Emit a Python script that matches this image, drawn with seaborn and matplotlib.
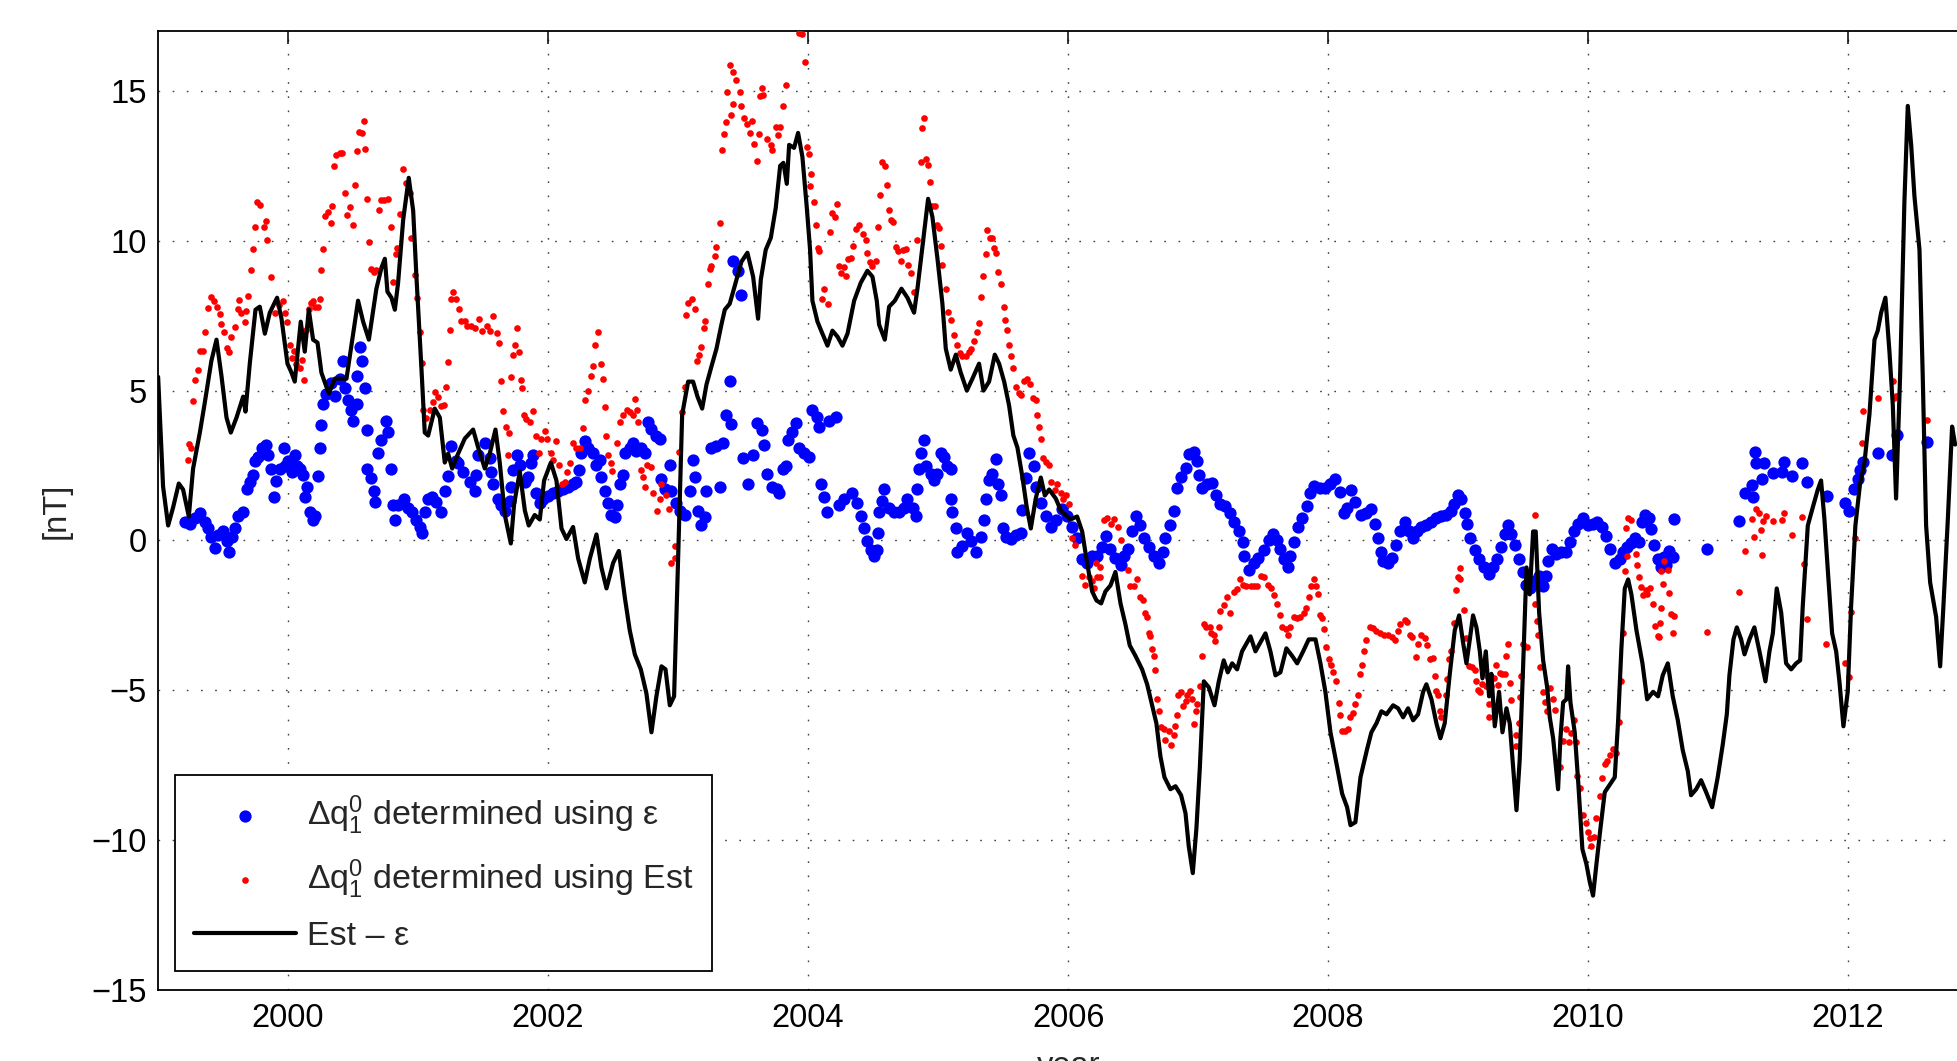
import numpy as np
import matplotlib
matplotlib.use("Agg")
import matplotlib.pyplot as plt
import seaborn as sns

# ---------------------------------------------------------------------------
# Data: decimal year and value in nT
# ---------------------------------------------------------------------------
# Delta q_1^0 determined using epsilon (blue)
blue_pts = [
    (1999.205, 0.60), (1999.244, 0.54), (1999.282, 0.75), (1999.320, 0.90), (1999.359, 0.60),
    (1999.385, 0.40), (1999.410, 0.10), (1999.441, -0.24), (1999.462, 0.18), (1999.500, 0.32),
    (1999.526, -0.03), (1999.544, -0.38), (1999.569, 0.10), (1999.595, 0.40), (1999.615, 0.80),
    (1999.654, 0.96), (1999.680, 1.73), (1999.705, 1.94), (1999.731, 2.20), (1999.749, 2.65),
    (1999.769, 2.80), (1999.800, 3.10), (1999.833, 3.20), (1999.846, 2.86), (1999.872, 2.37),
    (1999.892, 1.45), (1999.910, 2.00), (1999.936, 2.37), (1999.970, 3.07), (1999.974, 2.50),
    (2000.000, 2.65), (2000.026, 2.30), (2000.051, 2.86), (2000.072, 2.50), (2000.090, 2.37),
    (2000.115, 2.20), (2000.128, 1.45), (2000.149, 1.80), (2000.167, 0.96), (2000.192, 0.68),
    (2000.210, 0.82), (2000.231, 2.15), (2000.244, 3.07), (2000.256, 3.85), (2000.269, 4.55),
    (2000.295, 4.90), (2000.333, 5.25), (2000.359, 4.83), (2000.397, 5.40), (2000.423, 6.00),
    (2000.436, 5.10), (2000.462, 4.70), (2000.487, 4.34), (2000.500, 4.00), (2000.526, 4.55),
    (2000.526, 5.50), (2000.551, 6.45), (2000.569, 6.00), (2000.590, 5.10), (2000.603, 3.70),
    (2000.610, 2.37), (2000.641, 2.08), (2000.662, 1.66), (2000.667, 1.30), (2000.692, 2.93),
    (2000.713, 3.35), (2000.756, 4.00), (2000.769, 3.63), (2000.790, 2.37), (2000.808, 1.17),
    (2000.821, 0.68), (2000.846, 1.17), (2000.892, 1.38), (2000.923, 1.10), (2000.954, 0.96),
    (2000.987, 0.68), (2001.013, 0.46), (2001.026, 0.25), (2001.051, 0.96), (2001.077, 1.38),
    (2001.108, 1.45), (2001.141, 1.30), (2001.179, 0.96), (2001.210, 1.66), (2001.231, 2.15),
    (2001.256, 3.14), (2001.295, 2.65),
    (2001.308, 2.60), (2001.346, 2.28), (2001.397, 1.96), (2001.436, 1.65), (2001.449, 2.20),
    (2001.462, 2.84), (2001.513, 3.24), (2001.551, 2.76), (2001.564, 2.28), (2001.577, 1.88),
    (2001.615, 1.40), (2001.641, 1.17), (2001.667, 1.00), (2001.705, 1.33), (2001.718, 1.80),
    (2001.731, 2.36), (2001.764, 2.84), (2001.782, 2.52), (2001.821, 1.96), (2001.846, 2.12),
    (2001.872, 2.60), (2001.885, 2.84), (2001.910, 1.57), (2001.936, 1.25), (2001.962, 1.40),
    (2002.000, 1.49), (2002.038, 1.57), (2002.077, 1.65), (2002.115, 1.73), (2002.154, 1.80),
    (2002.192, 1.88), (2002.218, 1.96), (2002.236, 2.36), (2002.256, 2.92), (2002.282, 3.32),
    (2002.308, 3.08), (2002.346, 2.92), (2002.372, 2.52), (2002.397, 2.68), (2002.410, 2.12),
    (2002.436, 1.65), (2002.462, 1.25), (2002.482, 0.85), (2002.513, 0.77), (2002.526, 1.17),
    (2002.551, 1.88), (2002.577, 2.20), (2002.590, 2.92), (2002.628, 3.08), (2002.654, 3.24),
    (2002.679, 3.00), (2002.718, 3.08), (2002.744, 2.92), (2002.769, 3.96), (2002.795, 3.72),
    (2002.833, 3.48), (2002.859, 3.40), (2002.872, 2.04), (2002.897, 1.73), (2002.936, 2.52),
    (2002.949, 1.65), (2002.987, 1.25), (2003.013, 1.00), (2003.051, 0.85), (2003.090, 1.65),
    (2003.115, 2.68), (2003.128, 2.12), (2003.154, 1.00), (2003.179, 0.53), (2003.205, 0.77),
    (2003.218, 1.65), (2003.256, 3.08), (2003.295, 3.16), (2003.321, 1.80), (2003.346, 3.24),
    (2003.372, 4.20), (2003.397, 5.32), (2003.410, 3.88), (2003.423, 9.31), (2003.462, 9.00),
    (2003.487, 8.20), (2003.500, 2.76), (2003.538, 1.88), (2003.577, 2.84),
    (2003.610, 3.92), (2003.649, 3.70), (2003.662, 3.20), (2003.687, 2.23), (2003.726, 1.80),
    (2003.764, 1.73), (2003.777, 1.60), (2003.803, 2.37), (2003.828, 2.50), (2003.846, 3.35),
    (2003.879, 3.63), (2003.905, 3.92), (2003.931, 3.07), (2003.969, 2.93), (2004.008, 2.79),
    (2004.033, 4.34), (2004.069, 4.13), (2004.085, 3.77), (2004.162, 4.00), (2004.215, 4.13),
    (2004.097, 1.87), (2004.123, 1.45), (2004.149, 0.96), (2004.238, 1.17), (2004.277, 1.38),
    (2004.341, 1.60), (2004.379, 1.24), (2004.405, 0.82), (2004.431, 0.40), (2004.456, -0.03),
    (2004.482, -0.31), (2004.508, -0.52), (2004.533, -0.31), (2004.538, 0.25), (2004.546, 0.96),
    (2004.572, 1.31), (2004.585, 1.73), (2004.623, 1.10), (2004.662, 0.96), (2004.700, 0.96),
    (2004.738, 1.10), (2004.764, 1.38), (2004.803, 1.10), (2004.828, 0.82), (2004.841, 1.73),
    (2004.854, 2.37), (2004.867, 2.93), (2004.892, 3.35), (2004.905, 2.50), (2004.944, 2.23),
    (2004.969, 2.01), (2004.995, 2.23), (2005.021, 2.93), (2005.046, 2.79), (2005.072, 2.50),
    (2005.097, 2.37), (2005.097, 1.38), (2005.110, 0.96), (2005.136, 0.40), (2005.149, -0.38),
    (2005.187, -0.17), (2005.226, 0.25), (2005.251, -0.03), (2005.290, -0.38), (2005.328, 0.11),
    (2005.354, 0.68), (2005.367, 1.38), (2005.392, 2.01), (2005.418, 2.23), (2005.444, 2.72),
    (2005.459, 1.87), (2005.485, 1.52), (2005.500, 0.40), (2005.521, 0.11), (2005.559, 0.04),
    (2005.600, 0.18), (2005.636, 0.25), (2005.649, 1.03), (2005.674, 2.08), (2005.700, 2.93),
    (2005.736, 2.50), (2005.751, 1.80), (2005.790, 1.24), (2005.828, 0.82), (2005.867, 0.46),
    (2005.905, 0.68),
    (2005.954, 1.04), (2005.992, 0.80), (2006.031, 0.44), (2006.069, 0.08), (2006.108, -0.63),
    (2006.146, -0.75), (2006.185, -0.51), (2006.223, -0.51), (2006.262, -0.21), (2006.295, 0.14),
    (2006.326, -0.27), (2006.364, -0.57), (2006.405, -0.81), (2006.428, -0.51), (2006.459, -0.27),
    (2006.492, 0.32), (2006.526, 0.80), (2006.556, 0.50), (2006.587, 0.08), (2006.621, -0.21),
    (2006.659, -0.51), (2006.697, -0.75), (2006.731, -0.39), (2006.749, 0.08), (2006.787, 0.50),
    (2006.818, 0.98), (2006.838, 1.75), (2006.869, 2.11), (2006.903, 2.41), (2006.928, 2.89),
    (2006.967, 2.95), (2006.992, 2.65), (2007.005, 2.17), (2007.031, 1.75), (2007.069, 1.87),
    (2007.108, 1.93), (2007.141, 1.52), (2007.172, 1.22), (2007.210, 1.16), (2007.249, 0.92),
    (2007.279, 0.62), (2007.313, 0.32), (2007.346, -0.04), (2007.356, -0.51), (2007.390, -0.99),
    (2007.428, -0.75), (2007.464, -0.57), (2007.505, -0.33), (2007.544, 0.02), (2007.577, 0.20),
    (2007.608, 0.02), (2007.633, -0.27), (2007.659, -0.63), (2007.690, -0.87), (2007.710, -0.51),
    (2007.736, -0.04), (2007.767, 0.44), (2007.800, 0.74), (2007.836, 1.16), (2007.864, 1.58),
    (2007.895, 1.81), (2007.941, 1.75), (2007.979, 1.75), (2008.018, 1.87), (2008.056, 2.05),
    (2008.090, 1.63), (2008.121, 0.92), (2008.146, 1.10), (2008.177, 1.69), (2008.210, 1.28),
    (2008.256, 0.86), (2008.295, 0.92), (2008.333, 1.04), (2008.359, 0.56), (2008.385, 0.08),
    (2008.403, -0.39), (2008.423, -0.69), (2008.462, -0.75), (2008.495, -0.57), (2008.526, -0.16),
    (2008.551, 0.32), (2008.590, 0.62), (2008.623, 0.32), (2008.654, 0.08), (2008.685, 0.32),
    (2008.718, 0.44), (2008.756, 0.50), (2008.795, 0.62), (2008.833, 0.74), (2008.872, 0.80),
    (2008.910, 0.86), (2008.949, 0.98), (2008.967, 1.22), (2009.000, 1.52), (2009.026, 1.40),
    (2009.051, 0.92), (2009.069, 0.56), (2009.090, 0.08), (2009.128, -0.33), (2009.162, -0.63),
    (2009.197, -0.87), (2009.238, -1.11), (2009.269, -0.87), (2009.300, -0.63), (2009.333, -0.21),
    (2009.359, 0.20), (2009.385, 0.50), (2009.410, 0.20), (2009.436, -0.16), (2009.469, -0.63),
    (2009.500, -1.05), (2009.526, -1.47), (2009.551, -1.59), (2009.590, -1.35), (2009.623, -1.17),
    (2009.654, -1.53), (2009.674, -1.17), (2009.692, -0.69), (2009.726, -0.27), (2009.756, -0.45),
    (2009.795, -0.39), (2009.828, -0.39), (2009.859, -0.04), (2009.890, 0.32), (2009.923, 0.56),
    (2009.962, 0.74), (2010.000, 0.50), (2010.038, 0.56), (2010.069, 0.62), (2010.103, 0.44),
    (2010.136, 0.14), (2010.167, -0.27), (2010.205, -0.75), (2010.244, -0.63), (2010.269, -0.39),
    (2010.300, -0.21), (2010.333, -0.10), (2010.359, 0.08), (2010.392, -0.04), (2010.418, 0.62),
    (2010.436, 0.86), (2010.469, 0.74), (2010.485, 0.38), (2010.510, -0.16), (2010.536, -0.63),
    (2010.562, -0.87),
    (2010.587, -0.54), (2010.600, -0.83), (2010.626, -0.35), (2010.651, -0.54), (2010.664, 0.71),
    (2010.913, -0.29), (2011.159, 0.65), (2011.203, 1.57), (2011.259, 1.86), (2011.267, 1.44),
    (2011.287, 2.96), (2011.292, 2.57), (2011.336, 2.05), (2011.354, 2.57), (2011.426, 2.25),
    (2011.492, 2.28), (2011.505, 2.63), (2011.569, 2.15), (2011.644, 2.59), (2011.682, 1.94),
    (2011.836, 1.48), (2011.979, 1.25), (2012.010, 0.98), (2012.049, 1.73), (2012.074, 2.05),
    (2012.092, 2.34), (2012.113, 2.63), (2012.231, 2.92), (2012.338, 2.86), (2012.374, 3.53),
    (2012.605, 3.30),
]

# Delta q_1^0 determined using Est (red)
red_pts = [
    (1999.226, 2.68), (1999.238, 3.21), (1999.256, 3.07), (1999.269, 4.65), (1999.282, 5.35),
    (1999.303, 5.68), (1999.321, 6.31), (1999.346, 6.31), (1999.364, 6.94), (1999.385, 7.75),
    (1999.410, 8.14), (1999.431, 8.00), (1999.456, 7.79), (1999.474, 7.55), (1999.487, 7.23),
    (1999.508, 6.94), (1999.526, 6.42), (1999.544, 6.28), (1999.564, 6.80), (1999.595, 7.13),
    (1999.615, 7.72), (1999.623, 8.03), (1999.641, 7.58), (1999.667, 7.30), (1999.679, 7.65),
    (1999.692, 8.17), (1999.718, 9.01), (1999.733, 9.72), (1999.749, 10.46), (1999.764, 11.31),
    (1999.785, 11.21), (1999.815, 10.46), (1999.826, 10.65), (1999.841, 10.04), (1999.867, 8.80),
    (1999.897, 7.58), (1999.928, 7.86), (1999.962, 8.00), (1999.974, 7.60), (1999.995, 7.30),
    (2000.013, 6.52), (2000.031, 6.10), (2000.046, 6.31), (2000.064, 5.89), (2000.090, 5.75),
    (2000.103, 6.03), (2000.121, 5.35), (2000.141, 7.01), (2000.159, 7.72), (2000.179, 7.93),
    (2000.192, 8.00), (2000.210, 7.79), (2000.226, 7.79), (2000.244, 8.07), (2000.256, 9.01),
    (2000.269, 9.72), (2000.282, 10.82), (2000.308, 10.96), (2000.328, 10.60), (2000.338, 11.17),
    (2000.354, 12.48), (2000.372, 12.86), (2000.397, 12.93), (2000.415, 12.93), (2000.436, 11.59),
    (2000.456, 10.85), (2000.474, 11.13), (2000.500, 10.51), (2000.518, 11.87), (2000.533, 13.00),
    (2000.546, 13.63), (2000.569, 13.61), (2000.585, 14.01), (2000.595, 13.07), (2000.610, 11.38),
    (2000.623, 9.97), (2000.641, 9.06), (2000.662, 8.96), (2000.679, 9.01), (2000.697, 11.03),
    (2000.713, 11.35), (2000.738, 11.35), (2000.769, 11.41), (2000.790, 10.46), (2000.808, 8.63),
    (2000.826, 9.55), (2000.841, 9.76), (2000.859, 10.89), (2000.885, 12.39), (2000.903, 11.94),
    (2000.936, 11.59), (2000.949, 10.08), (2000.974, 8.85), (2000.995, 8.10), (2001.013, 6.94),
    (2001.026, 5.92), (2001.038, 4.37), (2001.064, 4.08), (2001.090, 4.37), (2001.115, 4.62),
    (2001.133, 4.97), (2001.154, 4.79), (2001.179, 4.48), (2001.200, 4.51), (2001.218, 5.11),
    (2001.226, 5.96), (2001.244, 7.01), (2001.256, 8.07), (2001.269, 8.28), (2001.295, 8.07),
    (2001.313, 7.72), (2001.333, 7.32), (2001.359, 7.32), (2001.379, 7.15),
    (2001.410, 7.16), (2001.436, 7.08), (2001.467, 7.40), (2001.492, 7.00), (2001.526, 7.16),
    (2001.551, 7.00), (2001.577, 7.48), (2001.603, 6.92), (2001.621, 6.60), (2001.641, 5.32),
    (2001.654, 4.33), (2001.679, 3.80), (2001.697, 3.59), (2001.718, 5.45), (2001.731, 6.20),
    (2001.749, 6.52), (2001.764, 7.08), (2001.777, 6.28), (2001.790, 5.35), (2001.800, 5.08),
    (2001.692, 2.84), (2001.815, 4.20), (2001.831, 4.04), (2001.859, 3.96), (2001.885, 4.33),
    (2001.910, 3.48), (2001.928, 2.92), (2001.949, 3.40), (2001.979, 3.64), (2001.995, 3.40),
    (2002.021, 2.92), (2002.038, 2.68), (2002.064, 3.32), (2002.082, 2.52), (2002.103, 1.88),
    (2002.128, 1.96), (2002.149, 2.28), (2002.167, 2.60), (2002.192, 3.24), (2002.218, 3.08),
    (2002.244, 3.08), (2002.269, 3.75), (2002.287, 4.68), (2002.308, 5.00), (2002.326, 5.48),
    (2002.346, 5.83), (2002.364, 6.52), (2002.385, 6.95), (2002.405, 5.88), (2002.423, 5.40),
    (2002.436, 4.44), (2002.449, 3.48), (2002.462, 2.84), (2002.482, 2.60), (2002.492, 2.32),
    (2002.526, 3.24), (2002.551, 3.96), (2002.577, 4.20), (2002.610, 4.36), (2002.628, 4.28),
    (2002.654, 4.20), (2002.667, 4.71), (2002.687, 4.36), (2002.692, 3.96), (2002.713, 2.36),
    (2002.731, 2.12), (2002.749, 1.80), (2002.764, 2.52), (2002.790, 2.44), (2002.808, 1.57),
    (2002.841, 1.00), (2002.859, 1.40), (2002.872, 1.88), (2002.910, 1.52), (2002.928, 1.04),
    (2002.949, -0.75), (2002.974, -0.59), (2002.979, -0.19), (2003.005, 2.96), (2003.026, 4.28),
    (2003.051, 5.13), (2003.064, 7.52), (2003.077, 7.91), (2003.108, 8.07), (2003.133, 7.72),
    (2003.149, 5.99), (2003.159, 6.20), (2003.179, 6.44), (2003.200, 7.08), (2003.210, 7.32),
    (2003.226, 8.55), (2003.244, 9.07), (2003.256, 9.15), (2003.282, 9.50), (2003.295, 9.79),
    (2003.321, 10.59), (2003.338, 13.02), (2003.354, 13.55), (2003.372, 13.95), (2003.379, 14.98),
    (2003.397, 15.86), (2003.423, 15.62), (2003.449, 15.38), (2003.474, 14.98), (2003.423, 14.58),
    (2003.410, 14.19), (2003.487, 14.50), (2003.508, 14.10), (2003.526, 13.91), (2003.551, 13.59),
    (2003.567, 13.98), (2003.582, 13.23), (2003.603, 12.67),
    (2003.623, 13.56), (2003.631, 14.83), (2003.656, 14.87), (2003.649, 15.11), (2003.682, 13.38),
    (2003.713, 13.18), (2003.726, 13.04), (2003.751, 13.80), (2003.769, 13.52), (2003.785, 13.80),
    (2003.803, 14.51), (2003.828, 15.21), (2003.931, 16.94), (2003.956, 16.90), (2003.974, 15.96),
    (2003.990, 13.14), (2004.008, 12.90), (2004.026, 12.23), (2004.015, 11.83), (2004.046, 11.31),
    (2004.059, 10.51), (2004.077, 9.76), (2004.085, 9.66), (2004.103, 8.07), (2004.123, 8.39),
    (2004.154, 7.89), (2004.169, 10.28), (2004.187, 10.93), (2004.205, 10.79), (2004.226, 11.24),
    (2004.238, 9.15), (2004.256, 8.92), (2004.277, 9.13), (2004.290, 8.82), (2004.308, 9.38),
    (2004.333, 9.41), (2004.349, 9.83), (2004.367, 10.39), (2004.392, 10.51), (2004.426, 10.23),
    (2004.444, 10.04), (2004.456, 9.58), (2004.477, 9.30), (2004.495, 9.15), (2004.521, 9.34),
    (2004.538, 10.46), (2004.554, 11.52), (2004.572, 12.62), (2004.590, 12.48), (2004.605, 11.87),
    (2004.623, 11.03), (2004.641, 10.70), (2004.656, 10.61), (2004.674, 9.80), (2004.692, 9.66),
    (2004.713, 9.34), (2004.731, 9.69), (2004.751, 9.72), (2004.769, 9.20), (2004.790, 8.92),
    (2004.815, 8.28), (2004.841, 10.04), (2004.867, 12.62), (2004.879, 13.75), (2004.892, 14.08),
    (2004.905, 12.72), (2004.923, 12.54), (2004.938, 11.97), (2004.956, 11.17), (2004.974, 11.17),
    (2004.995, 10.54), (2005.008, 10.42), (2005.021, 9.83), (2005.033, 9.20), (2005.059, 8.39),
    (2005.077, 7.61), (2005.097, 7.37), (2005.123, 6.87), (2005.149, 6.52), (2005.169, 6.24),
    (2005.187, 6.17), (2005.213, 6.17), (2005.238, 6.28), (2005.251, 6.38), (2005.277, 6.66),
    (2005.297, 6.94), (2005.315, 7.27), (2005.333, 8.14), (2005.349, 8.82), (2005.367, 9.55),
    (2005.379, 10.37), (2005.400, 10.08), (2005.418, 10.08), (2005.431, 9.76), (2005.444, 9.58),
    (2005.462, 8.96), (2005.482, 8.56), (2005.503, 7.79), (2005.513, 7.37), (2005.533, 7.01),
    (2005.546, 6.52), (2005.564, 6.17), (2005.579, 5.77), (2005.597, 5.11), (2005.623, 4.93),
    (2005.641, 4.87), (2005.662, 5.32), (2005.687, 5.39), (2005.708, 5.21), (2005.733, 4.76),
    (2005.751, 4.69), (2005.764, 4.17), (2005.777, 3.77), (2005.790, 3.38), (2005.803, 2.76),
    (2005.828, 2.62), (2005.854, 2.51), (2005.872, 1.94), (2005.897, 1.69), (2005.918, 1.87),
    (2005.944, 1.59), (2005.964, 1.38), (2005.982, 1.52),
    (2006.005, 1.22), (2006.031, 0.08), (2006.056, -0.16), (2006.108, -1.17), (2006.133, -1.47),
    (2006.159, -1.23), (2006.185, -1.35), (2006.197, -1.59), (2006.223, -1.21), (2006.244, -1.23),
    (2006.218, -0.75), (2006.249, -0.87), (2006.279, 0.68), (2006.300, 0.74), (2006.331, 0.56),
    (2006.356, 0.70), (2006.385, 0.44), (2006.403, 0.02), (2006.459, -0.99), (2006.479, -1.53),
    (2006.505, -1.53), (2006.531, -1.29), (2006.556, -1.89), (2006.577, -2.00), (2006.595, -2.42),
    (2006.608, -2.54), (2006.621, -3.08), (2006.633, -3.20), (2006.646, -3.62), (2006.659, -3.85),
    (2006.672, -4.33), (2006.685, -5.29), (2006.697, -5.70), (2006.715, -6.22), (2006.736, -6.30),
    (2006.749, -6.66), (2006.774, -6.36), (2006.792, -6.81), (2006.813, -6.48), (2006.826, -6.18),
    (2006.838, -5.82), (2006.849, -5.17), (2006.869, -5.07), (2006.885, -5.53), (2006.903, -5.35),
    (2006.915, -5.17), (2006.941, -5.02), (2006.954, -5.29), (2006.972, -6.12), (2006.987, -5.70),
    (2006.992, -5.47), (2007.013, -4.87), (2007.031, -3.85), (2007.044, -2.80), (2007.064, -2.88),
    (2007.090, -2.90), (2007.100, -3.08), (2007.121, -3.14), (2007.133, -3.35), (2007.159, -2.88),
    (2007.172, -2.36), (2007.197, -2.16), (2007.223, -1.89), (2007.249, -2.42), (2007.274, -1.71),
    (2007.300, -1.61), (2007.321, -1.29), (2007.346, -1.47), (2007.372, -1.53), (2007.403, -1.53),
    (2007.428, -1.53), (2007.454, -1.53), (2007.485, -1.17), (2007.510, -1.23), (2007.536, -1.47),
    (2007.562, -1.59), (2007.587, -1.83), (2007.603, -2.12), (2007.628, -2.48), (2007.649, -2.90),
    (2007.674, -2.96), (2007.690, -3.16), (2007.710, -2.88), (2007.736, -2.54), (2007.762, -2.60),
    (2007.787, -2.54), (2007.813, -2.42), (2007.833, -2.24), (2007.851, -1.89), (2007.869, -1.53),
    (2007.890, -1.29), (2007.910, -1.53), (2007.921, -1.80), (2007.936, -2.48), (2007.954, -2.60),
    (2007.967, -2.96), (2007.987, -3.56), (2008.005, -3.97), (2008.023, -4.15), (2008.038, -4.39),
    (2008.064, -4.69), (2008.082, -5.41), (2008.095, -5.82), (2008.108, -6.36), (2008.133, -6.36),
    (2008.151, -6.30), (2008.172, -5.88), (2008.192, -5.76), (2008.210, -5.47), (2008.228, -5.17),
    (2008.249, -4.45), (2008.262, -4.15), (2008.279, -3.68), (2008.295, -3.32),
    (2008.321, -2.90), (2008.346, -2.92), (2008.372, -3.02), (2008.397, -3.08), (2008.428, -3.16),
    (2008.462, -3.14), (2008.495, -3.23), (2008.513, -3.32), (2008.538, -3.02), (2008.556, -2.78),
    (2008.590, -2.66), (2008.608, -2.72), (2008.628, -3.16), (2008.649, -3.23), (2008.674, -3.88),
    (2008.692, -3.44), (2008.718, -3.14), (2008.744, -3.26), (2008.762, -3.50), (2008.782, -3.97),
    (2008.803, -3.91), (2008.821, -4.51), (2008.833, -5.02), (2008.846, -5.17), (2008.859, -5.70),
    (2008.872, -5.88), (2008.905, -5.17), (2008.915, -4.63), (2008.931, -3.97), (2008.949, -3.68),
    (2008.967, -2.76), (2008.987, -1.65), (2009.000, -1.23), (2009.018, -1.29), (2009.013, -0.93),
    (2009.044, -2.33), (2009.064, -3.26), (2009.085, -4.19), (2009.103, -4.21), (2009.128, -4.31),
    (2009.141, -4.69), (2009.154, -4.99), (2009.172, -5.07), (2009.187, -4.79), (2009.213, -4.87),
    (2009.221, -4.51), (2009.238, -5.47), (2009.238, -5.88), (2009.256, -4.87), (2009.274, -4.59),
    (2009.295, -4.15), (2009.308, -4.81), (2009.321, -4.43), (2009.341, -4.45), (2009.359, -4.45),
    (2009.372, -3.85), (2009.385, -3.44), (2009.397, -4.75), (2009.410, -5.32), (2009.444, -6.48),
    (2009.449, -6.86), (2009.469, -6.10), (2009.479, -5.23), (2009.487, -4.51), (2009.500, -3.44),
    (2009.531, -3.56), (2009.590, 0.86), (2009.590, -2.12), (2009.603, -2.68), (2009.615, -3.14),
    (2009.633, -4.21), (2009.654, -5.05), (2009.667, -5.38), (2009.685, -5.70), (2009.705, -4.93),
    (2009.731, -5.29), (2009.744, -5.64), (2009.787, -7.55), (2009.808, -6.69), (2009.833, -6.30),
    (2009.854, -6.72), (2009.869, -6.42), (2009.890, -5.98), (2009.910, -6.72), (2009.915, -7.85),
    (2009.941, -8.27), (2009.962, -9.16), (2009.982, -9.44), (2010.000, -9.73), (2010.013, -9.94),
    (2010.026, -10.18), (2010.044, -9.88), (2010.064, -9.25), (2010.090, -8.51), (2010.110, -7.94),
    (2010.128, -7.46), (2010.146, -7.37), (2010.167, -7.17), (2010.192, -6.96), (2010.215, -7.08),
    (2010.238, -6.06), (2010.256, -4.69), (2010.269, -3.08), (2010.282, -1.01), (2010.300, -0.51),
    (2010.290, 0.42), (2010.308, 0.74), (2010.333, 0.68), (2010.367, -0.45), (2010.377, -0.81),
    (2010.392, -1.21), (2010.403, -1.56), (2010.423, -1.83), (2010.444, -1.65), (2010.454, -1.80),
    (2010.474, -1.59), (2010.500, -2.12), (2010.513, -2.84), (2010.538, -3.20),
    (2010.544, -3.22), (2010.554, -2.74), (2010.562, -2.26), (2010.562, -1.02), (2010.574, -1.44),
    (2010.587, -0.67), (2010.613, -0.98), (2010.626, -1.75), (2010.638, -2.46), (2010.656, -3.09),
    (2010.664, -2.51), (2010.913, -3.07), (2011.159, -1.73), (2011.210, -0.36), (2011.262, 0.71),
    (2011.279, 0.10), (2011.292, 1.04), (2011.313, 0.90), (2011.328, 0.35), (2011.336, -0.48),
    (2011.346, 0.65), (2011.367, 0.81), (2011.426, 0.65), (2011.492, 0.69), (2011.503, 0.90),
    (2011.569, 0.19), (2011.646, 0.77), (2011.664, -0.77), (2011.682, -2.61), (2011.831, -3.44),
    (2011.979, -4.09), (2012.005, -4.57), (2012.023, -2.40), (2012.056, 0.08), (2012.108, 3.24),
    (2012.118, 4.32), (2012.228, 4.74), (2012.349, 5.32), (2012.356, 4.74), (2012.369, 4.82),
    (2012.605, 4.03),
]

# Est - epsilon (black line)
line_pts = [
    (1999.000, 5.46), (1999.038, 1.80), (1999.077, 0.50), (1999.115, 1.10), (1999.159, 1.90),
    (1999.192, 1.70), (1999.236, 0.80), (1999.269, 2.40), (1999.321, 3.60), (1999.359, 4.60),
    (1999.410, 6.00), (1999.449, 6.70), (1999.487, 5.50), (1999.526, 4.10), (1999.559, 3.60),
    (1999.603, 4.10), (1999.654, 4.80), (1999.672, 4.30), (1999.705, 5.90), (1999.749, 7.70),
    (1999.782, 7.80), (1999.821, 6.90), (1999.859, 7.60), (1999.915, 8.10), (1999.949, 7.40),
    (1999.995, 5.90), (2000.026, 5.60), (2000.051, 5.30), (2000.097, 7.30), (2000.128, 6.30),
    (2000.159, 7.70), (2000.192, 6.70), (2000.226, 6.60), (2000.256, 5.60), (2000.313, 4.90),
    (2000.359, 5.40), (2000.449, 5.40), (2000.487, 6.50), (2000.538, 8.00), (2000.577, 7.30),
    (2000.621, 6.70), (2000.679, 8.40), (2000.718, 9.10), (2000.744, 9.40), (2000.764, 8.30),
    (2000.795, 8.10), (2000.821, 7.70), (2000.846, 8.60), (2000.885, 10.70), (2000.928, 12.10),
    (2000.962, 11.00), (2000.987, 8.80), (2001.026, 5.70), (2001.051, 3.60), (2001.077, 3.50),
    (2001.128, 4.40), (2001.167, 4.10), (2001.205, 2.60), (2001.231, 2.90), (2001.262, 2.40),
    (2001.308, 2.90), (2001.359, 3.40), (2001.423, 3.70), (2001.462, 3.10), (2001.513, 2.40),
    (2001.551, 2.90), (2001.595, 3.70), (2001.628, 2.60), (2001.667, 0.85), (2001.713, -0.10),
    (2001.738, 1.20), (2001.782, 2.30), (2001.821, 1.00), (2001.851, 0.50), (2001.897, 0.85),
    (2001.936, 0.70), (2001.969, 2.00), (2002.021, 2.60), (2002.064, 2.00), (2002.103, 0.40),
    (2002.141, 0.05), (2002.192, 0.45), (2002.231, -0.60), (2002.282, -1.40), (2002.321, -0.60),
    (2002.372, 0.20), (2002.410, -0.90), (2002.449, -1.60), (2002.500, -0.75), (2002.544, -0.35),
    (2002.590, -1.90), (2002.628, -3.00), (2002.667, -3.80), (2002.713, -4.30), (2002.756, -5.10),
    (2002.795, -6.40), (2002.833, -5.20), (2002.872, -4.20), (2002.903, -4.30), (2002.936, -5.50),
    (2002.969, -5.20), (2003.000, -0.60), (2003.031, 4.20), (2003.077, 5.30), (2003.115, 5.30),
    (2003.149, 4.80), (2003.185, 4.40), (2003.218, 5.20), (2003.256, 5.80), (2003.295, 6.40),
    (2003.333, 7.20), (2003.359, 7.70), (2003.397, 7.90), (2003.436, 8.50), (2003.487, 9.30),
    (2003.533, 9.60), (2003.577, 8.80), (2003.615, 7.40), (2003.636, 8.70), (2003.674, 9.70),
    (2003.713, 10.10), (2003.751, 11.10), (2003.785, 12.50), (2003.810, 12.60), (2003.836, 11.90),
    (2003.854, 13.20), (2003.892, 13.10), (2003.923, 13.60), (2003.956, 12.80), (2003.990, 11.10),
    (2004.015, 9.70), (2004.033, 8.00), (2004.072, 7.30), (2004.110, 6.90), (2004.149, 6.50),
    (2004.187, 7.00), (2004.226, 6.80), (2004.264, 6.50), (2004.303, 6.90), (2004.354, 8.00),
    (2004.405, 8.60), (2004.456, 9.00), (2004.495, 8.80), (2004.528, 8.00), (2004.546, 7.20),
    (2004.590, 6.70), (2004.623, 7.80), (2004.667, 8.00), (2004.718, 8.40), (2004.764, 8.10),
    (2004.815, 7.60), (2004.841, 8.40), (2004.879, 9.80), (2004.923, 11.40), (2004.956, 10.80),
    (2004.995, 9.40), (2005.033, 7.90), (2005.059, 6.40), (2005.097, 5.70), (2005.136, 6.20),
    (2005.174, 5.60), (2005.221, 5.00), (2005.264, 5.40), (2005.315, 5.90), (2005.349, 5.00),
    (2005.392, 5.30), (2005.436, 6.20), (2005.469, 5.90), (2005.508, 5.30), (2005.546, 4.50),
    (2005.579, 3.50), (2005.610, 3.10), (2005.649, 2.10), (2005.682, 1.10), (2005.713, 0.40),
    (2005.751, 1.40), (2005.790, 2.10), (2005.821, 1.50), (2005.854, 1.70), (2005.905, 1.40),
    (2005.944, 1.00), (2005.995, 0.80), (2006.018, 0.70), (2006.069, 0.80), (2006.108, 0.30),
    (2006.146, -0.75), (2006.185, -1.70), (2006.218, -2.00), (2006.254, -2.10), (2006.287, -1.70),
    (2006.326, -1.50), (2006.364, -1.05), (2006.403, -2.10), (2006.441, -2.80), (2006.474, -3.50),
    (2006.518, -3.85), (2006.569, -4.30), (2006.608, -4.80), (2006.646, -5.50), (2006.679, -6.10),
    (2006.710, -7.20), (2006.741, -7.90), (2006.787, -8.30), (2006.826, -8.20), (2006.869, -8.50),
    (2006.903, -9.10), (2006.928, -10.20), (2006.959, -11.10), (2006.987, -9.60), (2007.013, -7.60),
    (2007.044, -4.70), (2007.082, -4.90), (2007.126, -5.50), (2007.159, -4.70), (2007.197, -4.00),
    (2007.228, -4.40), (2007.262, -4.10), (2007.300, -4.30), (2007.338, -3.70), (2007.377, -3.40),
    (2007.403, -3.20), (2007.441, -3.70), (2007.479, -3.40), (2007.518, -3.10), (2007.556, -3.70),
    (2007.595, -4.50), (2007.633, -4.40), (2007.679, -3.60), (2007.723, -3.85), (2007.762, -4.10),
    (2007.808, -3.70), (2007.851, -3.30), (2007.903, -3.30), (2007.941, -4.10), (2007.979, -5.05),
    (2008.018, -6.40), (2008.069, -7.55), (2008.108, -8.45), (2008.146, -8.90), (2008.172, -9.50),
    (2008.210, -9.40), (2008.249, -7.90), (2008.300, -6.96), (2008.333, -6.40), (2008.372, -6.10),
    (2008.410, -5.70), (2008.449, -5.80), (2008.500, -5.50), (2008.538, -5.60), (2008.577, -5.90),
    (2008.615, -5.60), (2008.654, -6.00), (2008.692, -5.80), (2008.731, -5.05), (2008.756, -4.80),
    (2008.795, -5.30), (2008.833, -6.10), (2008.864, -6.60), (2008.897, -6.10), (2008.936, -4.45),
    (2008.974, -3.00), (2009.008, -2.50), (2009.038, -3.40), (2009.064, -4.10), (2009.090, -3.30),
    (2009.115, -2.50), (2009.141, -2.90), (2009.167, -3.70), (2009.187, -4.60), (2009.213, -3.70),
    (2009.238, -5.20), (2009.256, -4.45), (2009.282, -6.20), (2009.315, -5.05), (2009.341, -6.40),
    (2009.372, -5.60), (2009.397, -6.10), (2009.423, -7.55), (2009.449, -9.00), (2009.474, -7.30),
    (2009.500, -4.20), (2009.526, -0.90), (2009.551, -1.80), (2009.577, 0.30), (2009.597, 0.30),
    (2009.623, -2.40), (2009.654, -4.00), (2009.685, -4.90), (2009.705, -5.90), (2009.731, -6.60),
    (2009.769, -8.30), (2009.787, -6.60), (2009.808, -5.40), (2009.833, -5.30), (2009.846, -4.20),
    (2009.864, -5.40), (2009.897, -6.40), (2009.923, -8.00), (2009.956, -10.30), (2009.987, -10.80),
    (2010.013, -11.40), (2010.038, -11.85), (2010.064, -10.80), (2010.095, -9.60), (2010.128, -8.40),
    (2010.167, -8.15), (2010.205, -7.90), (2010.231, -6.00), (2010.256, -3.60), (2010.282, -1.60),
    (2010.308, -1.30), (2010.333, -1.80), (2010.372, -3.00), (2010.418, -4.10), (2010.454, -5.30),
    (2010.500, -5.05), (2010.538, -5.20), (2010.574, -4.50), (2010.613, -4.10), (2010.651, -5.20),
    (2010.690, -6.00), (2010.728, -7.00), (2010.767, -7.70), (2010.792, -8.50), (2010.831, -8.30),
    (2010.869, -8.00), (2010.908, -8.40), (2010.954, -8.90), (2010.997, -7.90), (2011.036, -6.80),
    (2011.067, -5.80), (2011.087, -4.50), (2011.118, -3.30), (2011.144, -2.90), (2011.177, -3.30),
    (2011.203, -3.80), (2011.241, -3.30), (2011.279, -2.90), (2011.318, -3.70), (2011.364, -4.70),
    (2011.395, -3.70), (2011.421, -3.10), (2011.451, -1.60), (2011.485, -2.40), (2011.523, -4.10),
    (2011.562, -4.30), (2011.600, -4.10), (2011.631, -4.00), (2011.651, -2.20), (2011.690, 0.50),
    (2011.728, 1.10), (2011.767, 1.70), (2011.792, 2.00), (2011.818, 0.70), (2011.844, -1.00),
    (2011.877, -3.10), (2011.908, -3.70), (2011.933, -4.70), (2011.964, -6.20), (2011.997, -5.05),
    (2012.023, -2.20), (2012.056, 0.50), (2012.092, 1.90), (2012.126, 2.60), (2012.164, 4.20),
    (2012.203, 6.70), (2012.228, 7.00), (2012.254, 7.60), (2012.287, 8.10), (2012.318, 6.30),
    (2012.344, 4.50), (2012.369, 1.40), (2012.400, 5.50), (2012.433, 11.30), (2012.459, 14.50),
    (2012.485, 13.20), (2012.510, 11.50), (2012.549, 9.70), (2012.574, 5.50), (2012.600, 0.50),
    (2012.631, -1.40), (2012.677, -2.55), (2012.708, -4.20), (2012.733, -2.20), (2012.767, 0.70),
    (2012.800, 3.80), (2012.823, 3.20),
]

blue_year, blue_val = np.array(blue_pts).T
red_year, red_val = np.array(red_pts).T
line_year, line_val = np.array(line_pts).T

year_ticks = list(range(2000, 2014, 2))
value_ticks = list(range(-15, 20, 5))

label_blue = r"$\Delta q_1^0$ determined using ε"
label_red = r"$\Delta q_1^0$ determined using Est"
label_line = "Est – ε"

# ---------------------------------------------------------------------------
# Style
# ---------------------------------------------------------------------------
sns.set_theme(style="white")
plt.rcParams["font.family"] = ["Liberation Sans", "DejaVu Sans"]
plt.rcParams["mathtext.fontset"] = "custom"
plt.rcParams["mathtext.rm"] = "Liberation Sans"
plt.rcParams["mathtext.it"] = "Liberation Sans"
plt.rcParams["mathtext.bf"] = "Liberation Sans:bold"
plt.rcParams["mathtext.default"] = "regular"
plt.rcParams["axes.unicode_minus"] = True

FS = 23.5
LEG_FS = 24.5

fig = plt.figure(figsize=(19.57, 10.61), dpi=100)
ax = fig.add_axes([0.0808, 0.0669, 0.9632, 0.9039])
ax.set_facecolor("white")

sns.scatterplot(x=blue_year, y=blue_val, ax=ax, color="#0000ff", s=78,
                linewidth=0, label=label_blue, zorder=2)
sns.scatterplot(x=red_year, y=red_val, ax=ax, color="#ff0000", s=23,
                linewidth=0, label=label_red, zorder=3)
sns.lineplot(x=line_year, y=line_val, ax=ax, color="black", linewidth=3.0,
             sort=False, estimator=None, label=label_line, zorder=4)

ax.set_xlim(1999.0, 2013.5)
ax.set_ylim(-15, 17)
ax.set_xticks(year_ticks)
ax.set_yticks(value_ticks)

ax.grid(True, color="0.25", linestyle=(0, (1.2, 9)), linewidth=1.0)
for side in ("left", "bottom", "top", "right"):
    ax.spines[side].set_color("black")
    ax.spines[side].set_linewidth(1.3)

ax.tick_params(axis="both", which="major", direction="in", length=9, width=1.1,
               colors="black", labelsize=FS, top=True, right=False)
ax.tick_params(axis="y", pad=8)
ax.tick_params(axis="x", pad=9.5)

ax.set_xlabel("year", fontsize=FS)
ax.set_ylabel("[nT]", fontsize=FS)
ax.xaxis.set_label_coords(0.483, -0.064)
ax.yaxis.set_label_coords(-0.046, 0.5)

leg = ax.legend(loc="lower left", bbox_to_anchor=(175 / 1957, 90 / 1061),
                bbox_transform=fig.transFigure, borderaxespad=0, frameon=True,
                fancybox=False, edgecolor="black", framealpha=1, fontsize=LEG_FS,
                handlelength=3.0, handletextpad=0.33, borderpad=0.55,
                labelspacing=0.6)
leg.get_frame().set_linewidth(1.3)

fig.savefig("out.png", dpi=100)
